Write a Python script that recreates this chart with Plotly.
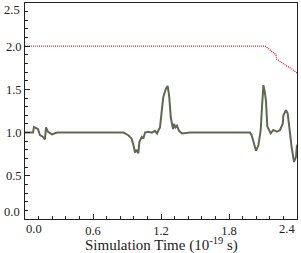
import plotly.graph_objects as go

# Green series (simulation time in 1e-19 s, value)
green_x = [0.0, 0.071, 0.079, 0.097, 0.115, 0.132, 0.159, 0.176, 0.185, 0.203, 0.238, 0.282,
           0.40, 0.55, 0.70, 0.868, 0.912, 0.941, 0.956, 0.971, 0.985, 1.0, 1.009, 1.03, 1.044,
           1.059, 1.088, 1.12, 1.147, 1.165, 1.182, 1.191, 1.22, 1.244, 1.259, 1.273, 1.286,
           1.294, 1.306, 1.315, 1.328, 1.341, 1.359, 1.385, 1.456, 1.60, 1.75, 1.90, 1.985,
           2.0, 2.021, 2.038, 2.059, 2.08, 2.091, 2.104, 2.118, 2.126, 2.138, 2.168, 2.191,
           2.224, 2.25, 2.274, 2.28, 2.303, 2.318, 2.332, 2.338, 2.353, 2.374, 2.391, 2.4]
green_y = [1.0, 1.0, 1.065, 1.05, 1.04, 0.97, 0.95, 0.92, 1.06, 1.01, 0.98, 1.0,
           1.0, 1.0, 1.0, 1.0, 0.97, 0.93, 0.86, 0.77, 0.80, 0.76, 0.89, 0.95, 0.93,
           1.0, 1.01, 1.0, 1.02, 0.99, 1.04, 1.06, 1.41, 1.51, 1.54, 1.41, 1.18,
           1.10, 1.04, 1.10, 1.06, 1.08, 1.02, 0.99, 1.0, 1.0, 1.0, 0.995, 1.0,
           0.97, 0.87, 0.79, 0.85, 1.03, 1.30, 1.55, 1.45, 1.37, 1.07, 0.99, 1.03,
           1.01, 1.03, 1.10, 1.20, 1.26, 1.22, 1.05, 0.99, 0.83, 0.66, 0.72, 0.86]

# Red dotted series
red_x = [0.0, 1.0, 1.1, 1.2, 2.118, 2.15, 2.18, 2.215, 2.22, 2.25, 2.30, 2.35, 2.40]
red_y = [2.0, 2.0, 2.005, 2.0, 2.0, 1.97, 1.94, 1.90, 1.85, 1.82, 1.78, 1.74, 1.69]

x_tickvals = [0.0, 0.6, 1.2, 1.8, 2.4]
x_ticktext = ["", "0.6", "1.2", "1.8", ""]
y_tickvals = [0.0, 0.5, 1.0, 1.5, 2.0, 2.5]
y_ticktext = ["", "0.5", "1.0", "1.5", "2.0", ""]
x_title = "Simulation Time (10<sup>-19</sup> s)"

font_family = "Liberation Serif"
tick_size = 12.5

fig = go.Figure()
fig.add_trace(go.Scatter(x=red_x, y=red_y, mode="lines",
                         line=dict(color="#e8242c", width=1.3, dash="1px,1px")))
fig.add_trace(go.Scatter(x=green_x, y=green_y, mode="lines",
                         line=dict(color="#5c6a52", width=2)))

axis_common = dict(showgrid=False, zeroline=False, showline=True, linecolor="#222",
                   linewidth=1, mirror=True, ticks="inside", ticklen=5, tickcolor="#222",
                   tickfont=dict(family=font_family, size=tick_size, color="#222"))

fig.update_xaxes(range=[0, 2.4], tickmode="array", tickvals=x_tickvals, ticktext=x_ticktext,
                 minor=dict(tickmode="linear", tick0=0, dtick=0.12, ticks="inside", ticklen=3,
                            tickcolor="#222"),
                 **axis_common)
fig.update_yaxes(range=[0, 2.5], tickmode="array", tickvals=y_tickvals, ticktext=y_ticktext,
                 minor=dict(tickmode="linear", tick0=0, dtick=0.1, ticks="inside", ticklen=3,
                            tickcolor="#222"),
                 **axis_common)

ann = []
for txt, xv in [("0.0", 0.0), ("2.4", 2.4)]:
    ann.append(dict(x=xv, y=0, xref="x", yref="paper", text=txt, showarrow=False,
                    xanchor="left" if xv == 0.0 else "right", yanchor="top", yshift=-1,
                    xshift=-1 if xv == 0.0 else 0,
                    font=dict(family=font_family, size=tick_size, color="#222")))
for txt, yv in [("0.0", 0.0), ("2.5", 2.5)]:
    ann.append(dict(x=0, y=yv, xref="paper", yref="y", text=txt, showarrow=False,
                    xanchor="right", yanchor="bottom" if yv == 0.0 else "top", xshift=-3,
                    yshift=-2 if yv == 0.0 else 2,
                    font=dict(family=font_family, size=tick_size, color="#222")))
# axis title as annotation at the bottom
ann.append(dict(x=0.5, y=0, xref="paper", yref="paper", text=x_title, showarrow=False,
                xanchor="center", yanchor="top", yshift=-14.5, borderpad=0,
                font=dict(family=font_family, size=15, color="#222")))

fig.update_layout(width=301, height=253, showlegend=False,
                  margin=dict(l=25, r=4, t=3, b=34),
                  paper_bgcolor="white", plot_bgcolor="white", annotations=ann)

fig.write_html("out.html", config={"displayModeBar": False},
               post_script="document.body.style.margin='0';")
